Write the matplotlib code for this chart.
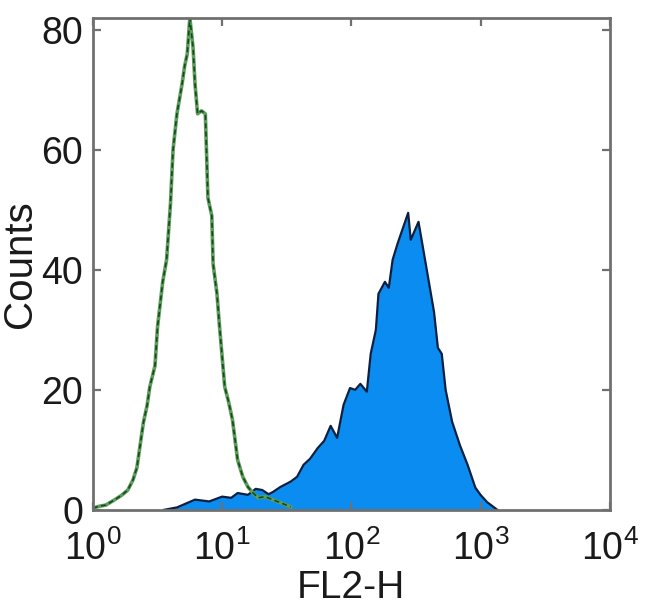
import numpy as np
import matplotlib.pyplot as plt

plt.rcParams['font.family'] = ['Liberation Sans', 'DejaVu Sans']
plt.rcParams['mathtext.default'] = 'regular'

# Control (isotype) histogram, green outline: log10(FL2-H) and counts
ctrl_log = [0.0, 0.05, 0.10, 0.17, 0.22, 0.27, 0.31, 0.34, 0.39, 0.42, 0.44, 0.48,
            0.50, 0.54, 0.57, 0.60, 0.62, 0.65, 0.69, 0.71, 0.73, 0.75, 0.775, 0.79,
            0.81, 0.84, 0.87, 0.89, 0.92, 0.93, 0.96, 0.98, 1.02, 1.05, 1.08, 1.12,
            1.16, 1.20, 1.24, 1.28, 1.33, 1.39, 1.45, 1.53]
ctrl_counts = [0.3, 0.6, 0.8, 1.7, 2.4, 3.3, 5.0, 7.0, 14.5, 17.5, 20.5, 24.0,
               30.5, 38.0, 41.7, 51.0, 60.0, 66.0, 71.0, 74.0, 76.0, 82.0, 77.0, 71.0,
               66.0, 66.5, 66.0, 52.0, 49.0, 41.0, 36.0, 30.5, 20.5, 18.0, 15.0, 8.3,
               5.5, 3.8, 2.8, 2.0, 2.2, 1.7, 1.2, 0.5]

# Stained sample histogram, filled blue
stain_log = [0.55, 0.65, 0.79, 0.90, 1.00, 1.07, 1.12, 1.20, 1.26, 1.31, 1.36, 1.395,
             1.45, 1.53, 1.58, 1.63, 1.68, 1.74, 1.79, 1.84, 1.89, 1.94, 1.99, 2.03,
             2.07, 2.12, 2.15, 2.19, 2.21, 2.26, 2.29, 2.32, 2.36, 2.40, 2.44, 2.46,
             2.48, 2.52, 2.56, 2.60, 2.64, 2.67, 2.70, 2.73, 2.78, 2.84, 2.90, 2.96,
             3.00, 3.05, 3.13]
stain_counts = [0.0, 0.4, 1.7, 1.4, 2.2, 2.0, 2.8, 2.5, 3.5, 3.3, 2.6, 3.0,
                3.8, 4.7, 5.5, 7.5, 8.5, 10.3, 11.5, 14.0, 12.0, 17.5, 20.3, 20.0,
                21.0, 19.7, 26.0, 30.0, 36.0, 38.0, 37.0, 41.7, 44.5, 47.0, 49.5, 45.0,
                46.0, 48.0, 43.0, 38.0, 33.0, 27.0, 26.0, 20.0, 14.7, 10.8, 7.5, 3.7,
                2.5, 1.3, 0.0]

ctrl_x = 10 ** np.array(ctrl_log)
stain_x = 10 ** np.array(stain_log)

fig = plt.figure(figsize=(6.5, 6.15), dpi=100)
ax = fig.add_axes([0.143, 0.171, 0.795, 0.800])

ax.fill_between(stain_x, stain_counts, 0, color='#0a8cf0', lw=0)
ax.plot(stain_x, stain_counts, color='#0b1f3f', lw=1.6)

ax.plot(ctrl_x, ctrl_counts, color='#5f9a5f', lw=2.6)
ax.plot(ctrl_x, ctrl_counts, color='#114d14', lw=1.2, ls=(0, (3, 2)))

ax.set_xscale('log')
ax.set_xlim(1, 1e4)
ax.set_ylim(0, 82)
ax.set_xticks([1, 10, 100, 1000, 10000])
ax.minorticks_off()
ax.set_yticks([0, 20, 40, 60, 80])

for s in ax.spines.values():
    s.set_color('#707070')
    s.set_linewidth(2)
ax.tick_params(direction='in', length=6, width=1.6, color='#707070',
               top=True, right=True, labelsize=27, labelcolor='#1a1a1a', pad=7)
ax.tick_params(axis='x', pad=15)

ax.set_xlabel('FL2-H', fontsize=28, color='#1a1a1a', labelpad=1)
ax.set_ylabel('Counts', fontsize=29, color='#1a1a1a', labelpad=2)

fig.savefig('out.png', dpi=100)
